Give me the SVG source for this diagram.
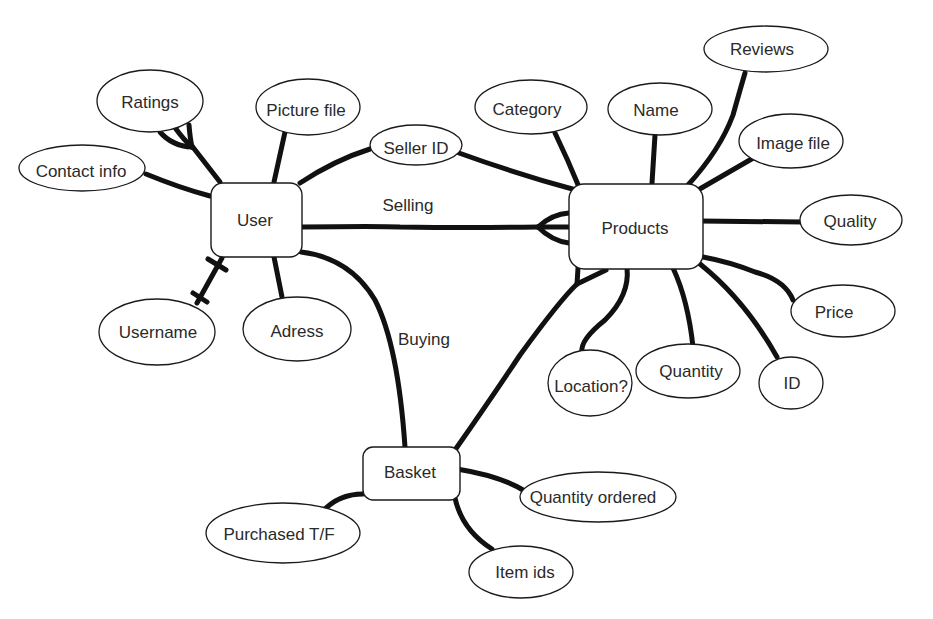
<svg xmlns="http://www.w3.org/2000/svg" width="933" height="619" viewBox="0 0 933 619">
<style>
.e{fill:#fff;stroke:#1a1a1a;stroke-width:1.3}
.b{fill:#fff;stroke:#1a1a1a;stroke-width:1.4}
.c{fill:none;stroke:#111;stroke-width:5;stroke-linecap:round;stroke-linejoin:round}
text{font-family:"Liberation Sans",Arial,sans-serif;font-size:17px;fill:#2a2a2a;text-anchor:middle}
</style>
<rect width="933" height="619" fill="#fff"/>
<g id="connectors">
<!-- Ratings - User crow's foot -->
<path class="c" d="M220,182 L192,146"/>
<path class="c" d="M160,132 Q172,146 192,147"/>
<path class="c" d="M176,129 Q184,140 192,147"/>
<path class="c" d="M189,125 Q190,138 192,147"/>
<path class="c" d="M285,132 L274,182"/>
<path class="c" d="M146,174 Q180,188 210,196"/>
<!-- Username - User -->
<path class="c" d="M197,303 L222,258"/>
<path class="c" d="M208,259 L226,270"/>
<path class="c" d="M193,293 L207,302"/>
<path class="c" d="M282,297 L274,257"/>
<path class="c" d="M370,149 Q335,160 300,183"/>
<path class="c" d="M459,153 Q520,175 576,190"/>
<!-- Selling -->
<path class="c" d="M301,227 Q380,226 400,227 Q470,228 538,227 L569,227"/>
<path class="c" d="M538,227 Q552,214 569,213"/>
<path class="c" d="M538,227 Q552,241 569,243"/>
<!-- Buying -->
<path class="c" d="M301,252 Q350,258 375,300 Q398,345 405,447"/>
<!-- Basket - Products -->
<path class="c" d="M455,450 Q490,400 520,355 Q560,300 577,284"/>
<path class="c" d="M577,284 L578,268"/>
<path class="c" d="M577,284 L606,270"/>
<!-- Products attributes -->
<path class="c" d="M627,268 Q630,295 605,320 Q580,340 582,352"/>
<path class="c" d="M673,268 Q688,300 693,347"/>
<path class="c" d="M700,264 Q745,300 777,357"/>
<path class="c" d="M703,257 Q730,262 755,272 Q785,280 793,300"/>
<path class="c" d="M700,221 L802,222"/>
<path class="c" d="M698,190 L755,157"/>
<path class="c" d="M688,185 Q720,150 733,115 Q740,90 745,73"/>
<path class="c" d="M655,135 L652,183"/>
<path class="c" d="M555,133 Q568,160 579,187"/>
<!-- Basket attributes -->
<path class="c" d="M457,469 Q500,476 523,490"/>
<path class="c" d="M455,498 Q462,530 492,549"/>
<path class="c" d="M363,494 Q335,494 318,517"/>
</g>
<g id="user"><rect class="b" x="211" y="183" width="91" height="74" rx="12"/><text x="255" y="226">User</text></g>
<g id="products"><rect class="b" x="569" y="184" width="134" height="85" rx="15"/><text x="635" y="234">Products</text></g>
<g id="basket"><rect class="b" x="363" y="447" width="97" height="53" rx="10"/><text x="410" y="478">Basket</text></g>
<g id="ratings"><ellipse class="e" cx="150" cy="101" rx="53" ry="31"/><text x="150" y="108">Ratings</text></g>
<g id="picture-file"><ellipse class="e" cx="308" cy="107" rx="52" ry="28"/><text x="306" y="116">Picture file</text></g>
<g id="contact-info"><ellipse class="e" cx="82" cy="168" rx="63" ry="23"/><text x="81" y="177">Contact info</text></g>
<g id="username"><ellipse class="e" cx="157" cy="332" rx="58" ry="33"/><text x="158" y="338">Username</text></g>
<g id="adress"><ellipse class="e" cx="297" cy="329" rx="54" ry="32"/><text x="297" y="337">Adress</text></g>
<g id="seller-id"><ellipse class="e" cx="416" cy="145" rx="46" ry="20"/><text x="416" y="154">Seller ID</text></g>
<g id="category"><ellipse class="e" cx="531" cy="107" rx="56" ry="27"/><text x="527" y="115">Category</text></g>
<g id="name"><ellipse class="e" cx="660" cy="109" rx="52" ry="26"/><text x="656" y="116">Name</text></g>
<g id="reviews"><ellipse class="e" cx="766" cy="49" rx="62" ry="23"/><text x="762" y="55">Reviews</text></g>
<g id="image-file"><ellipse class="e" cx="791" cy="141" rx="52" ry="27"/><text x="793" y="149">Image file</text></g>
<g id="quality"><ellipse class="e" cx="851" cy="220" rx="51" ry="25"/><text x="850" y="227">Quality</text></g>
<g id="price"><ellipse class="e" cx="843" cy="311" rx="52" ry="26"/><text x="834" y="318">Price</text></g>
<g id="id"><ellipse class="e" cx="791" cy="383" rx="32" ry="26"/><text x="792" y="389">ID</text></g>
<g id="quantity"><ellipse class="e" cx="688" cy="371" rx="52" ry="27"/><text x="691" y="377">Quantity</text></g>
<g id="location"><ellipse class="e" cx="590" cy="383" rx="42" ry="33"/><text x="591" y="392">Location?</text></g>
<g id="quantity-ordered"><ellipse class="e" cx="598" cy="497" rx="78" ry="25"/><text x="593" y="503">Quantity ordered</text></g>
<g id="purchased"><ellipse class="e" cx="283" cy="533" rx="77" ry="30"/><text x="279" y="540">Purchased T/F</text></g>
<g id="item-ids"><ellipse class="e" cx="521" cy="572" rx="52" ry="26"/><text x="525" y="578">Item ids</text></g>
<g id="labels"><text x="408" y="211">Selling</text><text x="424" y="345">Buying</text></g>
</svg>
